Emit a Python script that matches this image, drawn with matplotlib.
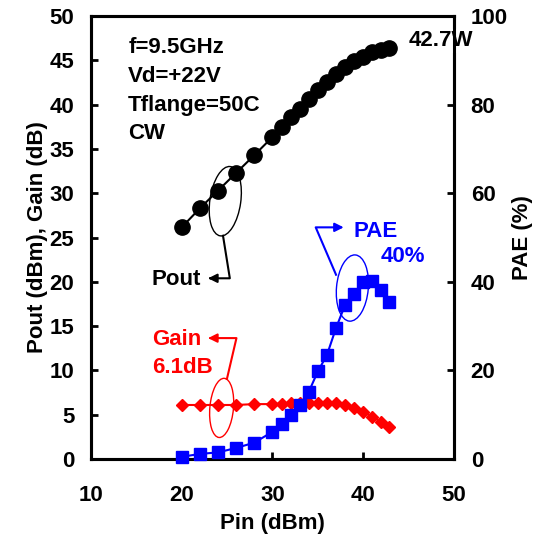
import matplotlib
matplotlib.use('Agg')
import matplotlib.pyplot as plt
from matplotlib.patches import Ellipse

plt.rcParams['font.family'] = ['Liberation Sans', 'DejaVu Sans']
plt.rcParams['font.weight'] = 'bold'

# data
pin = [20, 22, 24, 26, 28, 30, 31, 32, 33, 34, 35, 36, 37, 38, 39, 40, 41, 42, 42.8]
pout = [26.15, 28.3, 30.3, 32.3, 34.3, 36.35, 37.5, 38.65, 39.5, 40.6, 41.65, 42.6,
        43.5, 44.2, 44.9, 45.4, 45.9, 46.15, 46.4]
gain = [6.1, 6.1, 6.1, 6.1, 6.2, 6.2, 6.25, 6.3, 6.35, 6.35, 6.35, 6.3, 6.3,
        6.1, 5.8, 5.3, 4.8, 4.15, 3.65]
pae = [0.5, 1.15, 1.5, 2.5, 3.7, 6.15, 7.9, 10.0, 12.1, 15.2, 19.8, 23.5, 29.6,
       34.8, 37.3, 40.0, 40.2, 38.1, 35.5]

x_ticks = [10, 20, 30, 40, 50]
y_ticks = [0, 5, 10, 15, 20, 25, 30, 35, 40, 45, 50]
pae_ticks = [0, 20, 40, 60, 80, 100]
cond_lines = ['f=9.5GHz', 'Vd=+22V', 'Tflange=50C', 'CW']

FS = 16

fig = plt.figure(figsize=(5.38, 5.35), dpi=100)
ax = fig.add_axes([0.169, 0.142, 0.675, 0.828])
ax2 = ax.twinx()

ax.plot(pin, pout, '-o', color='black', ms=11, lw=1.5, clip_on=False, zorder=3)
ax.plot(pin, gain, '-D', color='red', ms=6.5, lw=1.5, clip_on=False, zorder=3)
ax2.plot(pin, pae, '-s', color='blue', ms=8, lw=1.5, clip_on=False, zorder=3)

ax.set_xlim(10, 50)
ax.set_ylim(0, 50)
ax2.set_ylim(0, 100)
ax.set_xticks(x_ticks)
ax.set_yticks(y_ticks)
ax2.set_yticks(pae_ticks)

for a in (ax, ax2):
    for s in a.spines.values():
        s.set_linewidth(2.2)
ax.tick_params(axis='x', direction='in', length=5, width=2, pad=19, labelsize=FS)
ax.tick_params(axis='y', direction='in', length=5, width=2, pad=12, labelsize=FS)
ax2.tick_params(axis='y', direction='in', length=5, width=2, pad=12, labelsize=FS)

ax.set_xlabel('Pin (dBm)', fontsize=FS, fontweight='bold', labelpad=4.5)
ax.set_ylabel('Pout (dBm), Gain (dB)', fontsize=FS, fontweight='bold', labelpad=1)
ax2.set_ylabel('PAE (%)', fontsize=FS, fontweight='bold', labelpad=3)

# conditions
for i, t in enumerate(cond_lines):
    ax.text(14.1, 46.5 - i * 3.27, t, fontsize=FS, fontweight='bold', va='center')

ax.text(45.0, 47.2, '42.7W', fontsize=FS, fontweight='bold', va='center',
        clip_on=False, zorder=5,
        bbox=dict(facecolor='white', edgecolor='none', pad=1))

# Pout callout
ax.add_patch(Ellipse((24.8, 29.1), 3.4, 7.9, angle=-8, fill=False, color='black', lw=1))
ax.plot([24.55, 25.3, 23.4], [25.2, 20.4, 20.4], color='black', lw=1.5)
ax.annotate('', xy=(22.6, 20.4), xytext=(23.6, 20.4),
            arrowprops=dict(arrowstyle='-|>', color='black', lw=1.5, mutation_scale=13))
ax.text(16.7, 20.3, 'Pout', fontsize=FS, fontweight='bold', va='center')

# Gain callout
ax.add_patch(Ellipse((24.4, 5.77), 2.6, 6.7, angle=-5, fill=False, color='red', lw=1))
ax.plot([24.98, 26.03, 23.5], [9.04, 13.65, 13.65], color='red', lw=1.5)
ax.annotate('', xy=(22.6, 13.65), xytext=(23.7, 13.65),
            arrowprops=dict(arrowstyle='-|>', color='red', lw=1.5, mutation_scale=13))
ax.text(16.7, 13.5, 'Gain', fontsize=FS, fontweight='bold', va='center', color='red')
ax.text(16.7, 10.3, '6.1dB', fontsize=FS, fontweight='bold', va='center', color='red')

# PAE callout
ax.add_patch(Ellipse((38.8, 19.3), 3.5, 7.5, angle=-5, fill=False, color='blue', lw=1))
ax.plot([37.0, 34.76, 37.2], [20.8, 26.15, 26.15], color='blue', lw=1.5)
ax.annotate('', xy=(38.15, 26.15), xytext=(37.0, 26.15),
            arrowprops=dict(arrowstyle='-|>', color='blue', lw=1.5, mutation_scale=13))
ax.text(38.9, 25.65, 'PAE', fontsize=FS, fontweight='bold', va='center', color='blue')
ax.text(41.9, 22.9, '40%', fontsize=FS, fontweight='bold', va='center', color='blue')

fig.savefig('out.png', dpi=100)
